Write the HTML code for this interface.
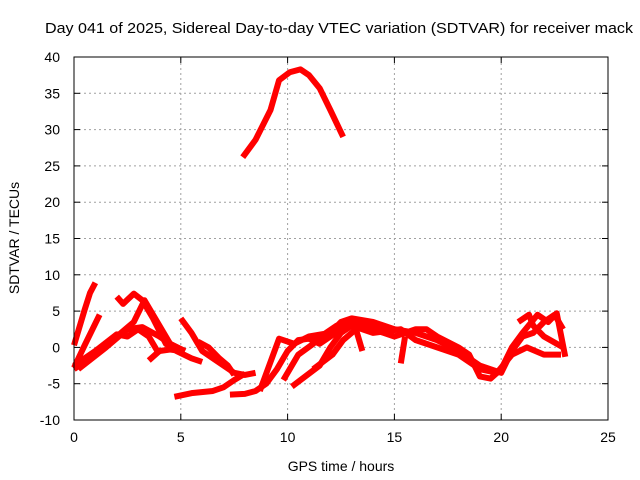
<!DOCTYPE html>
<html><head><meta charset="utf-8"><style>
body{margin:0;background:#fff;}
svg{display:block;font-family:"Liberation Sans",sans-serif;}
</style></head><body>
<svg id="chart" width="640" height="480">
<text x="339" y="33" font-size="15" text-anchor="middle" textLength="588" lengthAdjust="spacingAndGlyphs">Day 041 of 2025, Sidereal Day-to-day VTEC variation (SDTVAR) for receiver mack</text>
<text x="341" y="471" font-size="14" text-anchor="middle">GPS time / hours</text>
<text transform="translate(19,238) rotate(-90)" font-size="14" text-anchor="middle">SDTVAR / TECUs</text>
<g id="grid"></g><g id="series"></g><g id="axes"></g>
</svg>
<script>
const xTicks=[0,5,10,15,20,25];
const yTicks=[-10,-5,0,5,10,15,20,25,30,35,40];
const s1=[[7.9,26.2],[8.5,28.6],[9.2,32.7],[9.6,36.8],[10.1,37.9],[10.6,38.3],[11.0,37.5],[11.5,35.7],[12.0,32.7],[12.6,29.0]];
const s2=[[0,0.3],[0.5,5.2],[0.75,7.5],[1.0,8.9]];
const s3=[[0,-2.8],[0.5,0.3],[1.2,4.5]];
const s4=[[0,-3],[1,-1],[2,1.5],[2.8,3.5],[3.3,6.5],[3.8,4],[4.5,0.5],[5.2,-0.5]];
const s5=[[0,-2.5],[1,-0.5],[2,1.8],[2.5,1.5],[3,2.5],[3.5,1.5],[4,-1]];
const s6=[[0.2,-3],[1.5,0],[2.5,2.5],[3.2,2.8],[4,1.5],[4.5,0.5],[5,-0.3]];
const s7=[[2,7],[2.3,6],[2.8,7.4],[3.2,6.5],[3.7,4],[4.3,0.5],[4.8,-0.5],[5.5,-1.5],[6,-2]];
const s8=[[3.5,-1.8],[4,-0.5],[4.5,-0.3],[5,-0.5]];
const s9=[[5.0,4],[5.5,2],[6,-0.5],[7,-2.5],[7.5,-3.5],[8,-3.8],[8.5,-3.5]];
const s10=[[5.8,0.8],[6.3,0],[6.8,-1.5],[7.2,-2.5],[7.5,-3.8]];
const s11=[[4.7,-6.8],[5.5,-6.3],[6.5,-6],[7,-5.5],[7.5,-4.5],[8,-3.6]];
const s12=[[7.3,-6.5],[8,-6.4],[8.5,-6],[9,-5],[9.5,-3],[10,-0.5],[10.5,1],[11,1.2],[11.5,0.5],[12,1.5],[12.5,2.5],[13,3.2],[14,3],[15,2]];
const s13=[[8.7,-6],[9.6,1.2],[10.3,0.5],[11,1.5],[12,2],[12.5,3.5],[13,4],[14,3.5],[15,2.5],[16,2],[17,1],[18,-0.5],[19,-2.5],[19.5,-3],[20,-3.5],[20.5,-0.5],[21,1.5],[21.5,2],[22,3.5],[22.5,4.5],[22.9,2.5]];
const s14=[[9.8,-4.5],[10.5,-1],[11.2,0.5],[11.8,2],[12.3,3],[13,3.5],[14,2.5],[15,1.5],[16,2.5],[16.5,2.5],[17,1.5],[18,0],[18.5,-1],[19,-4],[19.5,-4.3],[20,-3],[20.5,0],[21,2],[21.7,4.5],[22.2,3.5],[22.6,4.7],[23,-1.3]];
const s15=[[10.2,-5.4],[11.5,-2.5],[12,0],[12.5,2],[13,3],[14,2],[15.3,2.5],[16,1],[17,0],[18,-1],[19,-3],[19.8,-3.5],[20.5,-1],[21.2,0],[22,-1],[22.8,-1]];
const s16=[[11.2,-3],[12.1,-1],[12.6,1],[13.2,2.5],[13.5,-0.5]];
const s17=[[15.3,-2.2],[15.5,1.5]];
const s18=[[20.8,3.5],[21.3,4.5],[21.5,3],[22,1.5],[22.6,0.5],[22.9,0]];
const allSeries=[s1,s2,s3,s4,s5,s6,s7,s8,s9,s10,s11,s12,s13,s14,s15,s16,s17,s18];
const X0=74,X1=608,Y0=420,Y1=57;
const xs=h=>X0+(h-0)/(25-0)*(X1-X0);
const ys=v=>Y0-(v+10)/50*(Y0-Y1);
const NS="http://www.w3.org/2000/svg";
function mk(t,a,p){const e=document.createElementNS(NS,t);for(const k in a)e.setAttribute(k,a[k]);p.appendChild(e);return e;}
const grid=document.getElementById('grid'),axes=document.getElementById('axes'),ser=document.getElementById('series');
xTicks.forEach(t=>{const x=xs(t);
 if(t>0&&t<25){const g=mk('line',{x1:x,x2:x,y1:Y0,y2:Y1,stroke:'#a0a0a0','stroke-dasharray':'2,3'},grid);
 
 }
 const l=mk('text',{x:x,y:Y0+22,'font-size':14,'text-anchor':'middle'},axes);l.textContent=t;
 
 
 mk('line',{x1:x,x2:x,y1:Y0,y2:Y0-6,stroke:'#000'},axes);mk('line',{x1:x,x2:x,y1:Y1,y2:Y1+6,stroke:'#000'},axes);});
yTicks.forEach(t=>{const y=ys(t);
 if(t>-10&&t<40){const g=mk('line',{x1:X0,x2:X1,y1:y,y2:y,stroke:'#a0a0a0','stroke-dasharray':'2,3'},grid);
 
 }
 const l=mk('text',{x:X0-14,y:y+5,'font-size':14,'text-anchor':'end'},axes);l.textContent=t;
 
 
 mk('line',{x1:X0,x2:X0+6,y1:y,y2:y,stroke:'#000'},axes);mk('line',{x1:X1,x2:X1-6,y1:y,y2:y,stroke:'#000'},axes);});
const fr=mk('rect',{x:X0,y:Y1,width:X1-X0,height:Y0-Y1,fill:'none',stroke:'#000'},axes);


allSeries.forEach((s,i)=>{
 const p=mk('polyline',{points:s.map(d=>xs(d[0])+','+ys(d[1])).join(' '),fill:'none',stroke:'#ff0000','stroke-width':6,'stroke-linejoin':'round','stroke-linecap':'butt'},ser);
 
 
});
</script>
</body></html>
